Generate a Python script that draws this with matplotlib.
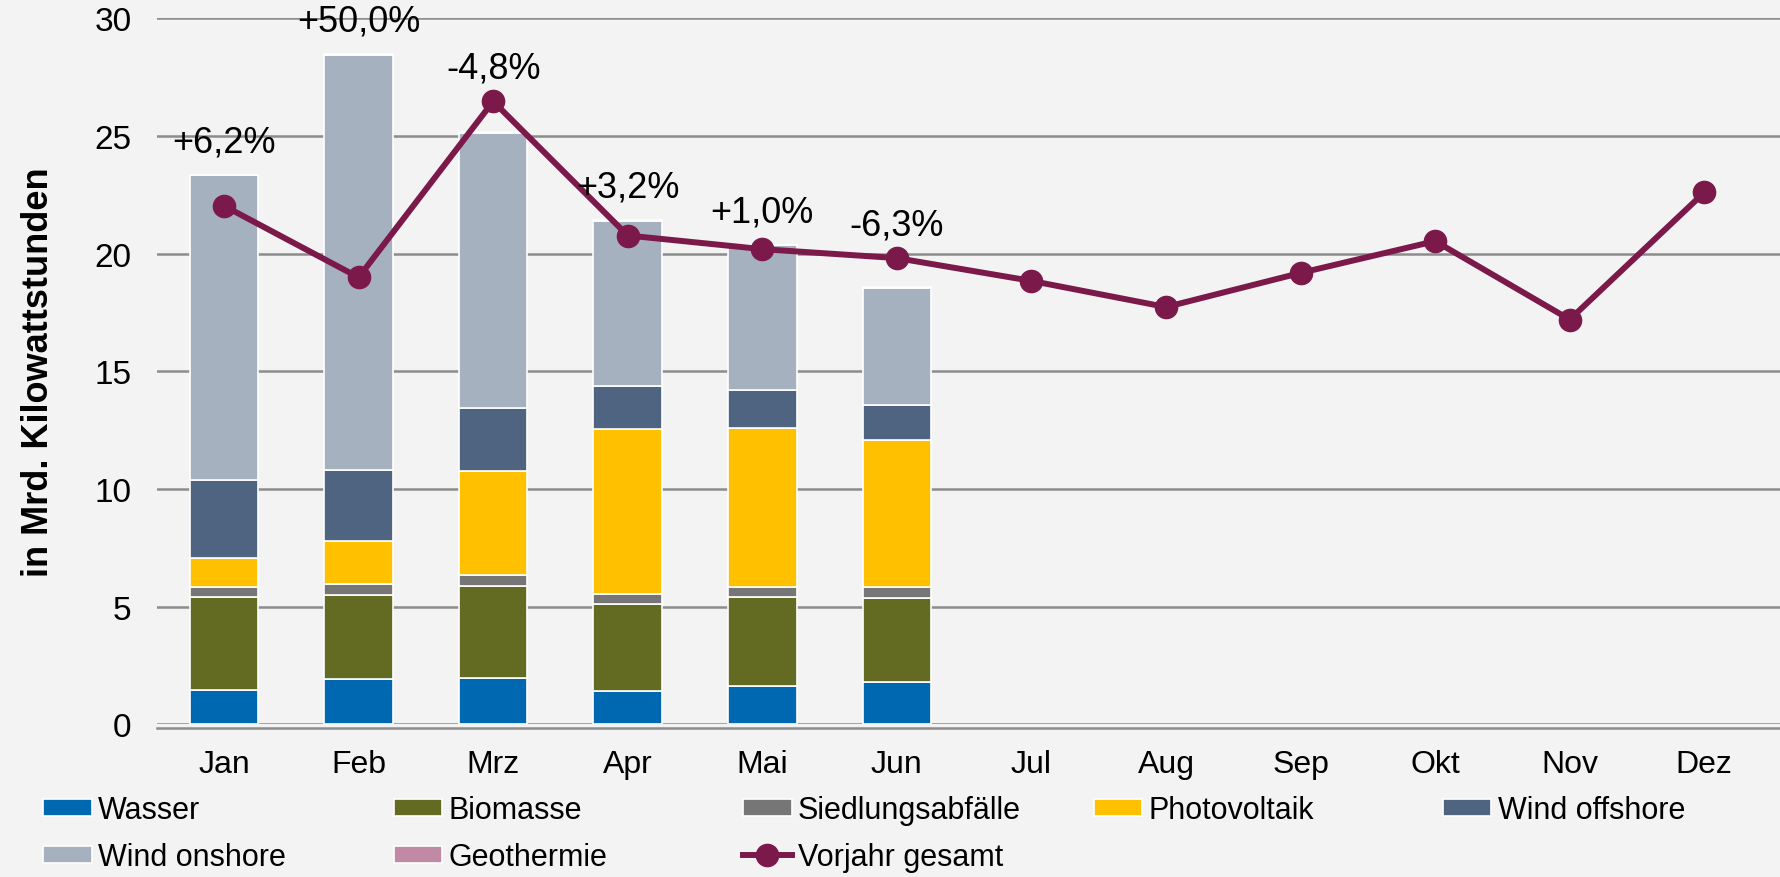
import numpy as np
import matplotlib.pyplot as plt

plt.rcParams['font.family'] = ['Liberation Sans', 'DejaVu Sans']

monate = ['Jan', 'Feb', 'Mrz', 'Apr', 'Mai', 'Jun', 'Jul', 'Aug', 'Sep', 'Okt', 'Nov', 'Dez']

# Mrd. kWh, Jan-Jun
wasser = [1.44, 1.92, 1.98, 1.41, 1.62, 1.79]
biomasse = [3.96, 3.57, 3.91, 3.69, 3.78, 3.58]
siedlung = [0.45, 0.46, 0.45, 0.45, 0.45, 0.45]
pv = [1.20, 1.83, 4.41, 6.98, 6.75, 6.28]
offshore = [3.33, 3.04, 2.67, 1.83, 1.60, 1.47]
onshore = [12.95, 17.64, 11.71, 7.04, 6.16, 4.99]
geothermie = [0.02, 0.02, 0.02, 0.02, 0.02, 0.02]

vorjahr = [22.03, 18.99, 26.47, 20.77, 20.19, 19.81, 18.84, 17.73, 19.18, 20.53, 17.2, 22.6]
veraenderung = ['+6,2%', '+50,0%', '-4,8%', '+3,2%', '+1,0%', '-6,3%']

serien = [
    ('Wasser', wasser, '#0068b0'),
    ('Biomasse', biomasse, '#626b21'),
    ('Siedlungsabfälle', siedlung, '#767676'),
    ('Photovoltaik', pv, '#ffc000'),
    ('Wind offshore', offshore, '#4e6480'),
    ('Wind onshore', onshore, '#a6b1bf'),
    ('Geothermie', geothermie, '#c08aa4'),
]

bg = '#f3f3f3'
fig = plt.figure(figsize=(17.81, 8.78), dpi=100, facecolor=bg)
ax = fig.add_axes([0.088, 0.174, 0.912, 0.804], facecolor=bg)

x = np.arange(len(monate))
xb = x[:len(wasser)]
bottom = np.zeros(len(wasser))
handles = []
for name, vals, col in serien:
    b = ax.bar(xb, vals, 0.51, bottom=bottom, color=col, edgecolor='white',
               linewidth=1.2, label=name, zorder=2)
    bottom += np.array(vals)
    handles.append(b)

ln, = ax.plot(x, vorjahr, color='#7b1a4a', lw=4.3, marker='o', ms=16,
              label='Vorjahr gesamt', zorder=3)
handles.append(ln)

for i, txt in enumerate(veraenderung):
    y = max(bottom[i], vorjahr[i]) + 1.4
    ax.text(i, y, txt, ha='center', va='center', fontsize=26, zorder=4)

ax.set_ylim(0, 30)
ax.set_xlim(-0.5, 11.57)
ax.set_yticks(range(0, 31, 5))
ax.set_xticks(x)
ax.set_xticklabels(monate)
ax.yaxis.grid(True, color='#8c8c8c', lw=1.8, zorder=0)
ax.set_axisbelow(True)
for s in ['top', 'right', 'left']:
    ax.spines[s].set_visible(False)
ax.spines['bottom'].set_color('#8c8c8c')
ax.spines['bottom'].set_linewidth(1.8)
ax.spines['bottom'].set_position(('outward', 3))
ax.tick_params(axis='x', length=0, labelsize=23, pad=15)
ax.tick_params(axis='y', length=0, labelsize=24, pad=18)
ax.set_ylabel('in Mrd. Kilowattstunden', fontsize=26, fontweight='bold', labelpad=28)

# legend: 5 gleich breite Spalten, zeilenweise gefuellt
spalten_x = [0.024, 0.221, 0.417, 0.614, 0.81]
for j, xs in enumerate(spalten_x):
    hs = handles[j::5]
    fig.legend(handles=hs, labels=[h.get_label() for h in hs], loc='upper left',
               bbox_to_anchor=(xs, 0.093), frameon=False, fontsize=22,
               handlelength=1.6, handleheight=0.5, handletextpad=0.2,
               labelspacing=0.55, borderpad=0, borderaxespad=0)

fig.savefig('out.png', dpi=100, facecolor=bg)
